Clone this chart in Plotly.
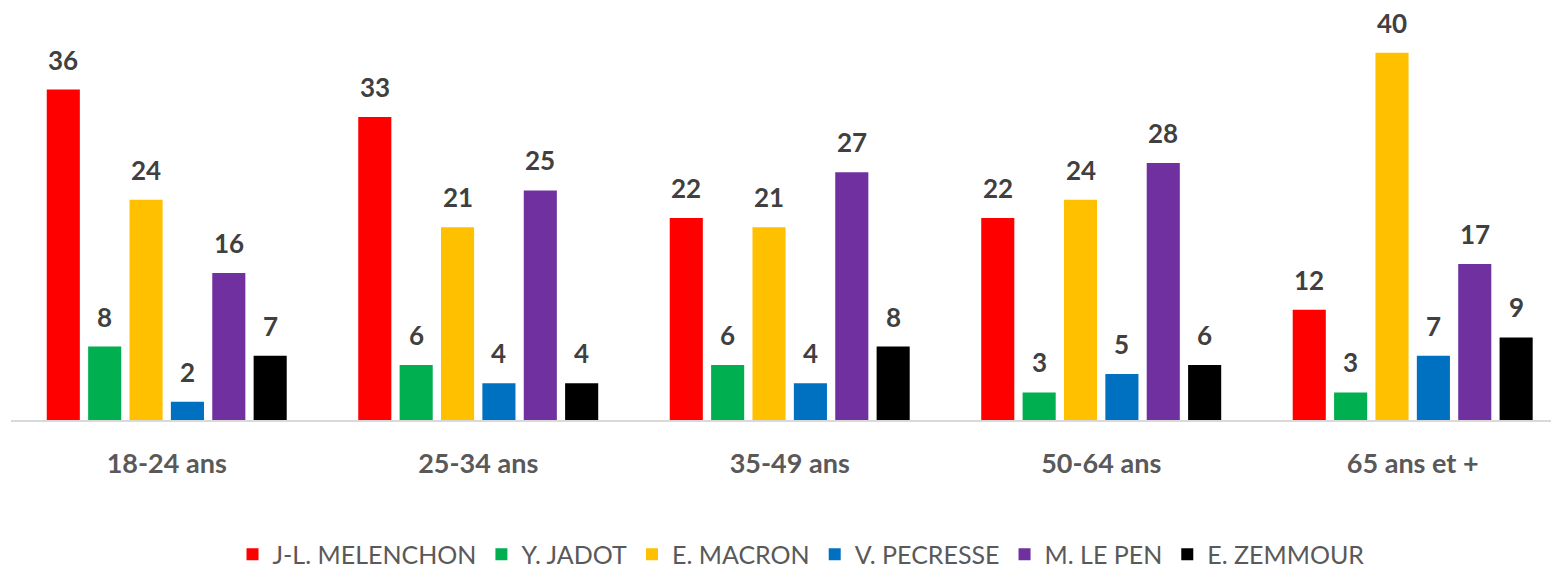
import plotly.graph_objects as go

categories = ["18-24 ans", "25-34 ans", "35-49 ans", "50-64 ans", "65 ans et +"]
candidates = ["J-L. MELENCHON", "Y. JADOT", "E. MACRON", "V. PECRESSE", "M. LE PEN", "E. ZEMMOUR"]
colors = ["#FF0000", "#00B050", "#FFC000", "#0070C0", "#7030A0", "#000000"]

melenchon = [36, 33, 22, 22, 12]
jadot = [8, 6, 6, 3, 3]
macron = [24, 21, 21, 24, 40]
pecresse = [2, 4, 4, 5, 7]
lepen = [16, 25, 27, 28, 17]
zemmour = [7, 4, 8, 6, 9]
series = [melenchon, jadot, macron, pecresse, lepen, zemmour]

BARGAP = 0.203
GROUPGAP = 0.2
FONT = "Lato"

fig = go.Figure()
for name, vals, col in zip(candidates, series, colors):
    fig.add_trace(go.Bar(x=categories, y=vals, name=name, marker_color=col,
                         marker_line_width=0, hoverinfo="skip"))

n = len(series)
slot = (1 - BARGAP) / n
annotations = []
for i, vals in enumerate(series):
    off = -(1 - BARGAP) / 2 + (i + 0.5) * slot
    for j, v in enumerate(vals):
        annotations.append(dict(x=j + off, y=v, xref="x", yref="y", text=f"<b>{v}</b>",
                                showarrow=False, yanchor="bottom", yshift=12,
                                font=dict(family=FONT, size=26, color="#404040")))

fig.update_layout(
    width=1551, height=568,
    margin=dict(l=11, r=0, t=0, b=148, autoexpand=False),
    paper_bgcolor="white", plot_bgcolor="white",
    barmode="group", bargap=BARGAP, bargroupgap=GROUPGAP,
    annotations=annotations,
    showlegend=True,
    legend=dict(orientation="h", x=0.513, xanchor="center", y=-0.32, yanchor="middle",
                font=dict(family=FONT, size=25, color="#595959"), itemwidth=30),
    xaxis=dict(type="category", range=[-0.5, 4.444], showline=True, linecolor="#D9D9D9",
               linewidth=1.5, showgrid=False, zeroline=False, ticks="outside", ticklen=19,
               tickcolor="rgba(0,0,0,0)",
               tickfont=dict(family=FONT, size=27, color="#595959", weight="bold")),
    yaxis=dict(range=[0, 45.75], visible=False, showgrid=False, zeroline=False),
)

fig.write_html("out.html", config={"displayModeBar": False})

with open("out.html", "r", encoding="utf-8") as f:
    html = f.read()
html = html.replace("<body>", '<body style="margin:0;padding:0;overflow:hidden;">', 1)
with open("out.html", "w", encoding="utf-8") as f:
    f.write(html)
